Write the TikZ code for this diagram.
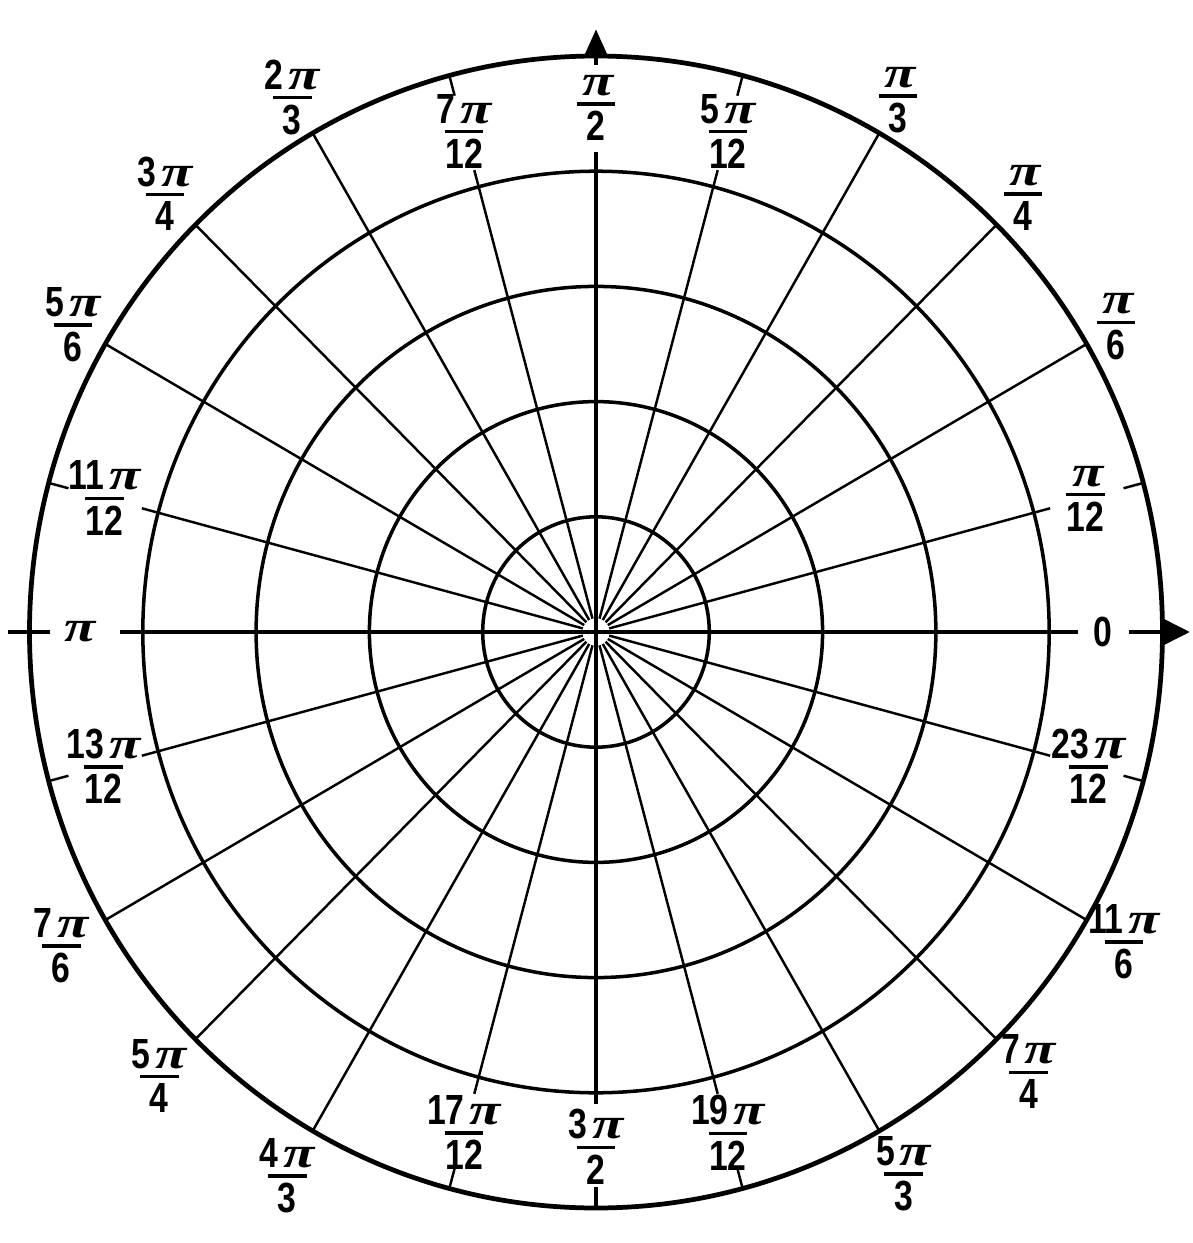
\documentclass[tikz,border=0pt]{standalone}
\usepackage{fontspec}
\usepackage{graphicx}
\usepackage{tikz}
\setmainfont{Liberation Sans}[FakeStretch=0.8]
\newfontfamily\pifont{Liberation Serif}
\tikzset{
    ring/.style={
           line width=1pt,
           },
    outerring/.style={
           line width=1.35pt,
           },
    spoke/.style={
           line width=0.7pt,
           },
    axisline/.style={
           line width=1pt,
           },
    anglelabel/.style={
           inner sep=0pt,
           font=\fontsize{12}{14}\selectfont\bfseries,
           },
}
% bold fraction  n pi / d  (the bar has always the same length)
\newcommand{\pisym}{\scalebox{1.3}[1]{\pifont\bfseries\itshape\fontsize{12.5}{12.5}\selectfont π}}
\newcommand{\pifrac}[2]{\vbox{\offinterlineskip
  \halign{\hfil##\hfil\cr
    #1\kern1.4pt\pisym\cr
    \noalign{\vskip 1.8pt}
    \rule{11pt}{1pt}\cr
    \noalign{\vskip 1.6pt}
    #2\cr}}}

\begin{document}
\begin{tikzpicture}[x=1.133cm, y=1.152cm]

 \useasboundingbox (-5.96cm,-6.11cm) rectangle (5.97cm,6.32cm);

 % the rings
 \foreach \rad in {1,2,3,4}
   \draw[ring] (0,0) circle[radius=\rad];
 \draw[outerring] (0,0) circle[radius=5];

 % short spokes (odd multiples of pi/12), with a tick on the outer ring
 \foreach \ang in {15,75,105,165,195,255,285,345} {
   \draw[spoke] (\ang:0.12) -- (\ang:4.15);
   \draw[spoke] (\ang:4.82) -- (\ang:5);
 }

 % long spokes
 \foreach \ang in {30,45,60,120,135,150,210,225,240,300,315,330}
   \draw[spoke] (\ang:0.12) -- (\ang:5);

 % the axes, broken by their labels
 \draw[axisline] (180:4.2) -- (0:4.25);
 \draw[axisline] (270:4.1) -- (90:4.17);
 \draw[axisline] (0:4.7) -- (0:5);
 \draw[axisline] (180:4.82) -- (180:5.19);
 \draw[axisline] (270:4.82) -- (270:5);
 \draw[axisline] (90:4.92) -- (90:5);

 % arrow heads
 \fill (4.98,0.13) -- (5.24,0) -- (4.98,-0.13) -- cycle;
 \fill (-0.11,4.99) -- (0,5.23) -- (0.11,4.99) -- cycle;

 % labels inside the outer ring
 \node[anglelabel] (lab0)   at (0:4.47)   {0};
 \node[anglelabel] (lab15)  at (15:4.47)  {\pifrac{}{12}};
 \node[anglelabel] (lab75)  at (75:4.5)   {\pifrac{5}{12}};
 \node[anglelabel] (lab90)  at (90:4.55)  {\pifrac{}{2}};
 \node[anglelabel] (lab105) at (105:4.5)  {\pifrac{7}{12}};
 \node[anglelabel] (lab165) at (165:4.49) {\pifrac{11}{12}};
 \node[anglelabel] (lab180) at (180:4.55) {\pisym};
 \node[anglelabel] (lab195) at (195:4.5)  {\pifrac{13}{12}};
 \node[anglelabel] (lab255) at (255:4.5)  {\pifrac{17}{12}};
 \node[anglelabel] (lab270) at (270:4.47) {\pifrac{3}{2}};
 \node[anglelabel] (lab285) at (285:4.5)  {\pifrac{19}{12}};
 \node[anglelabel] (lab345) at (345:4.5)  {\pifrac{23}{12}};

 % labels outside the outer ring
 \node[anglelabel] (lab30)  at (30:5.3)   {\pifrac{}{6}};
 \node[anglelabel] (lab45)  at (45:5.33)  {\pifrac{}{4}};
 \node[anglelabel] (lab60)  at (60:5.33)  {\pifrac{}{3}};
 \node[anglelabel] (lab120) at (120:5.36) {\pifrac{2}{3}};
 \node[anglelabel] (lab135) at (135:5.38) {\pifrac{3}{4}};
 \node[anglelabel] (lab150) at (150:5.33) {\pifrac{5}{6}};
 \node[anglelabel] (lab210) at (210:5.45) {\pifrac{7}{6}};
 \node[anglelabel] (lab225) at (225:5.45) {\pifrac{5}{4}};
 \node[anglelabel] (lab240) at (240:5.45) {\pifrac{4}{3}};
 \node[anglelabel] (lab300) at (300:5.43) {\pifrac{5}{3}};
 \node[anglelabel] (lab315) at (315:5.4)  {\pifrac{7}{4}};
 \node[anglelabel] (lab330) at (330:5.38) {\pifrac{11}{6}};

\end{tikzpicture}
\end{document}
